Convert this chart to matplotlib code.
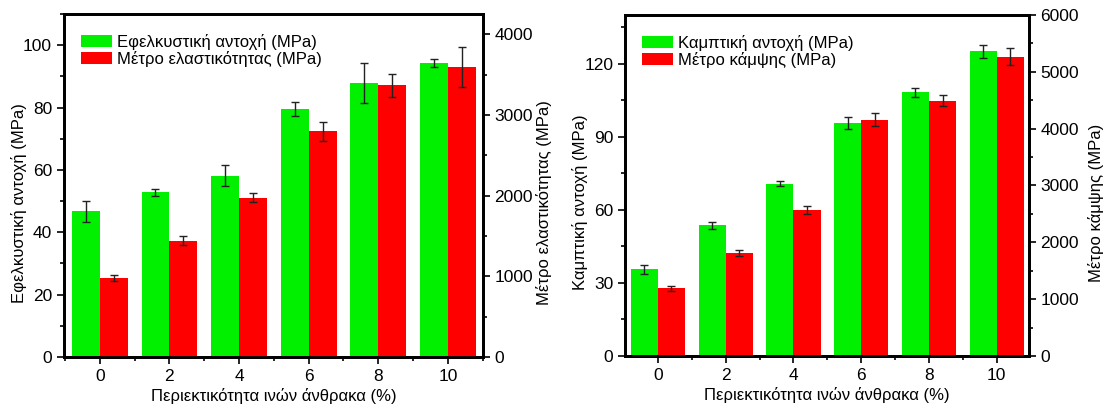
import matplotlib
matplotlib.use('Agg')
import matplotlib.pyplot as plt
from matplotlib.ticker import MultipleLocator

plt.rcParams['font.family'] = ['Liberation Sans', 'DejaVu Sans']
plt.rcParams['font.size'] = 12

# Δεδομένα (περιεκτικότητα ινών άνθρακα %)
content = [0, 2, 4, 6, 8, 10]

tensile = [46.7, 52.8, 58.2, 79.6, 88.0, 94.3]
tensile_err = [3.4, 1.1, 3.4, 2.3, 6.4, 1.3]
tensile_mod = [980, 1440, 1975, 2795, 3365, 3590]
tensile_mod_err = [40, 55, 55, 120, 145, 250]

flex = [35.6, 53.6, 70.8, 95.6, 108.2, 125.1]
flex_err = [1.8, 1.6, 1.2, 2.5, 1.8, 2.6]
flex_mod = [1190, 1812, 2570, 4158, 4493, 5267]
flex_mod_err = [45, 60, 65, 120, 100, 150]

green = '#00f000'
red = '#ff0000'
w = 0.8


def style(ax, minor):
    ax.yaxis.set_minor_locator(MultipleLocator(minor))
    ax.tick_params(which='major', direction='out', length=5, width=1.2, labelsize=12.5)
    ax.tick_params(which='minor', direction='out', length=3, width=1.2)
    for s in ax.spines.values():
        s.set_linewidth(2)


def panel(rect, xlim, g, ge, r, re, ylab, ylab2, ylim, ylim2, ystep, ystep2, lx, rx):
    ax = fig.add_axes(rect)
    ax2 = ax.twinx()
    xs_g = [c - w / 2 for c in content]
    xs_r = [c + w / 2 for c in content]
    ekw = dict(ecolor='#222222', elinewidth=1, capthick=1)
    b1 = ax.bar(xs_g, g, width=w, color=green, yerr=ge, capsize=3, error_kw=ekw)
    b2 = ax2.bar(xs_r, r, width=w, color=red, yerr=re, capsize=3, error_kw=ekw)
    ax.set_xlim(*xlim)
    ax.set_ylim(*ylim)
    ax2.set_ylim(*ylim2)
    ax.set_xticks(content)
    ax.xaxis.set_minor_locator(MultipleLocator(1))
    ax.yaxis.set_major_locator(MultipleLocator(ystep))
    ax2.yaxis.set_major_locator(MultipleLocator(ystep2))
    style(ax, ystep / 2)
    style(ax2, ystep2 / 2)
    ax.set_xlabel('Περιεκτικότητα ινών άνθρακα (%)', fontsize=12, labelpad=3)
    ax.set_ylabel(ylab, fontsize=12)
    ax2.set_ylabel(ylab2, fontsize=12)
    ax.yaxis.set_label_coords(lx, 0.45)
    ax2.yaxis.set_label_coords(rx, 0.45)
    ax.legend([b1, b2], [ylab, ylab2], loc='upper left', frameon=False,
              fontsize=12, handlelength=1.9, handleheight=0.75,
              handletextpad=0.3, labelspacing=0.05, borderaxespad=0.6,
              bbox_to_anchor=(0.0, 0.99))
    return ax, ax2


fig = plt.figure(figsize=(11.07, 4.05), dpi=100)

panel([0.0577, 0.1185, 0.3784, 0.847], (-1.03, 11.0),
      tensile, tensile_err, tensile_mod, tensile_mod_err,
      'Εφελκυστική αντοχή (MPa)', 'Μέτρο ελαστικότητας (MPa)',
      (0, 110), (0, 4250), 20, 1000, -0.087, 1.126)

panel([0.5646, 0.121, 0.3646, 0.842], (-0.97, 10.94),
      flex, flex_err, flex_mod, flex_mod_err,
      'Καμπτική αντοχή (MPa)', 'Μέτρο κάμψης (MPa)',
      (0, 140), (0, 6000), 30, 1000, -0.092, 1.148)

fig.savefig('out.png', dpi=100)
